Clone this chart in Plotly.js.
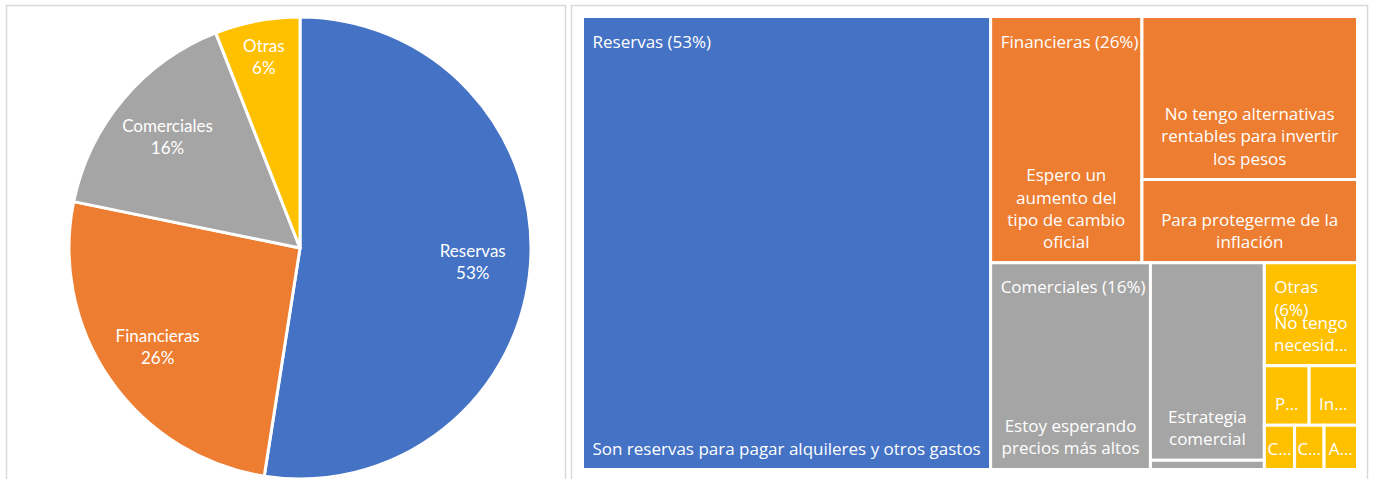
<!DOCTYPE html>
<html><head><meta charset="utf-8">
<script src="https://cdn.plot.ly/plotly-3.0.1.min.js"></script>
<style>html,body{margin:0;padding:0;background:#fff}</style>
</head><body><div id="chart" style="width:1373px;height:479px"></div>
<script>
// ---- data ----
const categories = ["Reservas", "Financieras", "Comerciales", "Otras"];
const categoryPct = [53, 26, 16, 6];
const categoryColors = ["#4472C4", "#ED7D31", "#A5A5A5", "#FFC000"];
const headerSep = [" ", " ", " ", "<br>"];

const reasonIds = ["r1", "f1", "f2", "f3", "c1", "c2", "c3", "o1", "o2", "o3", "o4", "o5", "o6"];
const reasonLabels = [
  "Son reservas para pagar alquileres y otros gastos",
  "Espero un<br>aumento del<br>tipo de cambio<br>oficial",
  "No tengo alternativas<br>rentables para invertir<br>los pesos",
  "Para protegerme de la<br>inflación",
  "Estoy esperando<br>precios más altos",
  "Estrategia<br>comercial",
  "",
  "No tengo<br>necesid…",
  "P…",
  "In…",
  "C…",
  "C…",
  "A…"
];
const reasonParents = ["Reservas", "Financieras", "Financieras", "Financieras",
  "Comerciales", "Comerciales", "Comerciales",
  "Otras", "Otras", "Otras", "Otras", "Otras", "Otras"];
const reasonValues = [52.6, 10.6, 10.0, 5.1, 9.4, 6.4, 0.3, 2.73, 0.76, 0.82, 0.38, 0.37, 0.42];

// ---- helpers ----
const W = 1373, H = 479;
const px = x => x / W;
const py = y => 1 - y / H;

const catSums = categories.map(c => reasonValues.reduce((s, v, i) => s + (reasonParents[i] === c ? v : 0), 0));
const colorOf = c => categoryColors[categories.indexOf(c)];

const pieFont = "Lato, 'Open Sans', sans-serif";
const tmFont = "'Open Sans', 'Noto Sans', sans-serif";
const pieDomain = {x: [px(69), px(531)], y: [py(479), py(17)]};

const pie = {
  type: "pie",
  labels: categories,
  values: categoryPct,
  marker: {colors: categoryColors, line: {color: "#ffffff", width: 3}},
  sort: false,
  direction: "clockwise",
  rotation: 0,
  textinfo: "none",
  hoverinfo: "skip",
  showlegend: false,
  domain: pieDomain
};

// transparent ring carrying the labels, so they sit further out like the original
const pieLabels = {
  type: "pie",
  labels: categories,
  values: categoryPct,
  hole: 0.5,
  marker: {colors: categories.map(() => "rgba(0,0,0,0)"), line: {width: 0}},
  sort: false,
  direction: "clockwise",
  rotation: 0,
  textposition: "inside",
  insidetextorientation: "horizontal",
  texttemplate: "%{label}<br>%{value}%",
  textfont: {family: pieFont, size: 17, color: "#ffffff"},
  hoverinfo: "skip",
  showlegend: false,
  domain: pieDomain
};

const tmDomain = {x: [px(582.5), px(1357.5)], y: [py(469.5), py(16.5)]};
const leafTextDomain = {x: [px(582.5), px(1357.5)], y: [py(462.5), py(9.5)]};
const headerDomain = {x: [px(589.5), px(1364.5)], y: [py(479.5), py(26.5)]};

const allIds = categories.concat(reasonIds);
const allParents = categories.map(() => "").concat(reasonParents);
const allValues = catSums.concat(reasonValues);
const clear = n => Array.from({length: n}, () => "rgba(0,0,0,0)");
const common = {
  type: "treemap",
  branchvalues: "total",
  sort: false,
  tiling: {packing: "squarify", squarifyratio: 1, pad: 0},
  pathbar: {visible: false},
  hoverinfo: "skip"
};

const tree = Object.assign({}, common, {
  ids: allIds,
  labels: categories.concat(reasonLabels),
  parents: allParents,
  values: allValues,
  textinfo: "none",
  marker: {
    colors: categoryColors.concat(reasonParents.map(colorOf)),
    line: {color: "#ffffff", width: 3},
    pad: {t: 0, l: 0, r: 0, b: 0}
  },
  domain: tmDomain
});

const leafText = Object.assign({}, common, {
  ids: allIds,
  labels: categories.concat(reasonLabels),
  parents: allParents,
  values: allValues,
  text: categories.map(() => "").concat(reasonLabels),
  textinfo: "text",
  marker: {colors: clear(allIds.length), line: {color: "rgba(0,0,0,0)", width: 0}, pad: {t: 0, l: 0, r: 0, b: 0}},
  textposition: "bottom center",
  textfont: {family: tmFont, size: 17, color: "#ffffff"},
  domain: leafTextDomain
});

const headers = Object.assign({}, common, {
  ids: categories,
  labels: categories,
  parents: categories.map(() => ""),
  values: catSums,
  text: categories.map((c, i) => c + headerSep[i] + "(" + categoryPct[i] + "%)"),
  textinfo: "text",
  marker: {colors: clear(categories.length), line: {color: "rgba(0,0,0,0)", width: 0}, pad: {t: 0, l: 0, r: 0, b: 0}},
  textposition: "top left",
  textfont: {family: tmFont, size: 17, color: "#ffffff"},
  domain: headerDomain
});

const frame = (x0, x1) => ({
  type: "rect", xref: "paper", yref: "paper",
  x0: px(x0), x1: px(x1), y0: py(495), y1: py(5.5),
  line: {color: "#D9D9D9", width: 1.5}, fillcolor: "rgba(0,0,0,0)", layer: "below"
});

const layout = {
  width: W, height: H,
  margin: {l: 0, r: 0, t: 0, b: 0},
  paper_bgcolor: "#ffffff",
  plot_bgcolor: "#ffffff",
  showlegend: false,
  shapes: [frame(6.5, 565.5), frame(571.5, 1367.5)]
};

Plotly.newPlot("chart", [pie, pieLabels, tree, leafText, headers], layout, {displayModeBar: false, staticPlot: true});
</script>
</body></html>
